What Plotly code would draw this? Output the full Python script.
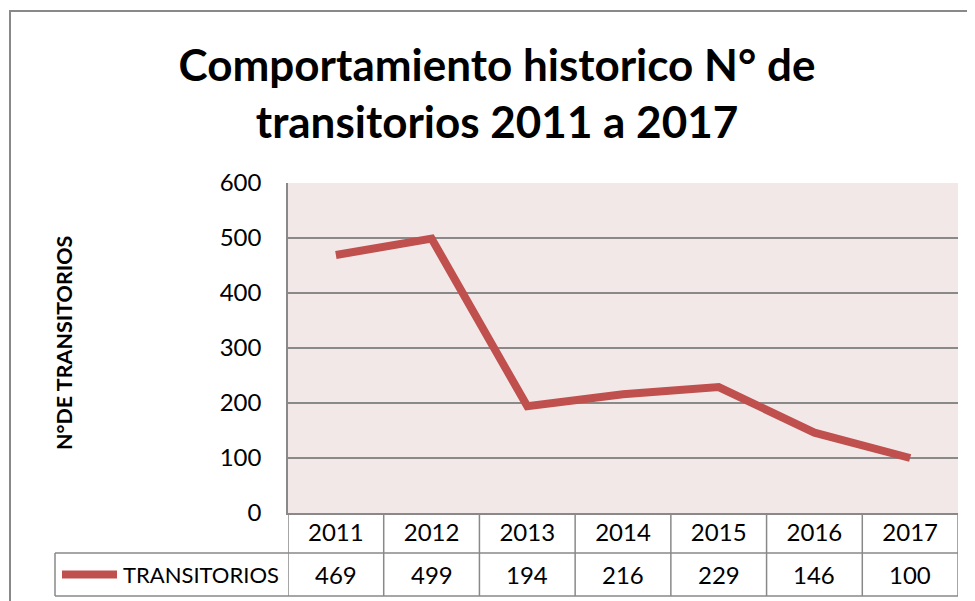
import plotly.graph_objects as go

years = ["2011", "2012", "2013", "2014", "2015", "2016", "2017"]
transitorios = [469, 499, 194, 216, 229, 146, 100]
series_name = "TRANSITORIOS"
title_text = "Comportamiento historico N° de<br>transitorios 2011 a 2017"
y_title = "N°DE TRANSITORIOS"
y_ticks = [0, 100, 200, 300, 400, 500, 600]

LINE = "#C0504D"
GRID = "#898989"
FONT = "Lato"

# page body has an 8px margin; figure sized so it ends at the window edge
OFF = 8
W, H = 975 - OFF, 601 - OFF

fig = go.Figure()
fig.add_trace(go.Scatter(
    x=list(range(len(years))), y=transitorios, mode="lines", name=series_name,
    line=dict(color=LINE, width=8), showlegend=False,
))

# Plot area (screen px) 288..958 wide (670), 183..513 tall (330)
PH = 330.0
PW = 670.0
row1 = -40 / PH
row2 = -83 / PH
midrow2 = (row1 + row2) / 2

shapes = []
for i in range(len(years) + 1):
    shapes.append(dict(type="line", xref="x", yref="paper",
                       x0=i - 0.5, x1=i - 0.5, y0=0, y1=row2,
                       line=dict(color=GRID, width=1.5)))
leg_left = (55 - 288) / PW
shapes.append(dict(type="line", xref="paper", yref="paper",
                   x0=leg_left, x1=leg_left, y0=row1, y1=row2,
                   line=dict(color=GRID, width=1.5)))
for yy in (row1, row2):
    shapes.append(dict(type="line", xref="paper", yref="paper",
                       x0=leg_left, x1=1, y0=yy, y1=yy,
                       line=dict(color=GRID, width=1.5)))
# legend key
shapes.append(dict(type="line", xref="paper", yref="paper",
                   x0=(62 - 288) / PW, x1=(117 - 288) / PW,
                   y0=midrow2, y1=midrow2,
                   line=dict(color=LINE, width=8)))
# outer chart border
shapes.append(dict(type="rect", xref="paper", yref="paper",
                   x0=(10 - 288) / PW, x1=1.2, y0=-0.5, y1=(513 - 11) / PH,
                   line=dict(color=GRID, width=2), fillcolor="rgba(0,0,0,0)"))

annotations = []
for i, v in enumerate(transitorios):
    annotations.append(dict(x=i, y=midrow2, xref="x", yref="paper",
                            text=str(v), showarrow=False,
                            xanchor="center", yanchor="middle",
                            font=dict(family=FONT, size=24, color="black")))
annotations.append(dict(x=(121 - 288) / PW, y=midrow2, xref="paper", yref="paper",
                        text=series_name, showarrow=False, xanchor="left", yanchor="middle",
                        font=dict(family=FONT, size=22, color="black")))
annotations.append(dict(x=(64 - 288) / PW, y=(513 - 343) / PH, xref="paper", yref="paper",
                        text="<b>" + y_title + "</b>", showarrow=False, textangle=-90,
                        xanchor="center", yanchor="middle",
                        font=dict(family=FONT, size=21.5, color="black")))

fig.update_layout(
    width=W, height=H,
    margin=dict(l=288 - OFF, r=W - (958 - OFF), t=183 - OFF, b=H - (513 - OFF), pad=0),
    paper_bgcolor="white",
    plot_bgcolor="#F2E8E8",
    title=dict(text="<b>" + title_text + "</b>", x=(497 - OFF) / W, xanchor="center",
               y=1 - (81 - OFF) / H, yanchor="middle", yref="container",
               font=dict(family=FONT, size=44, color="black")),
    xaxis=dict(range=[-0.5, 6.5], showgrid=False, zeroline=False,
               tickvals=list(range(len(years))), ticktext=years,
               showline=True, linecolor=GRID, linewidth=1.5,
               ticks="", ticklabelstandoff=-3,
               tickfont=dict(family=FONT, size=24, color="black")),
    yaxis=dict(range=[0, 600], tickvals=y_ticks, showgrid=True,
               gridcolor=GRID, gridwidth=1.5, zeroline=False,
               showline=True, linecolor=GRID, linewidth=1.5,
               ticks="", ticklabelstandoff=20,
               tickfont=dict(family=FONT, size=24, color="black")),
    shapes=shapes,
    annotations=annotations,
)

fig.write_html("out.html")
